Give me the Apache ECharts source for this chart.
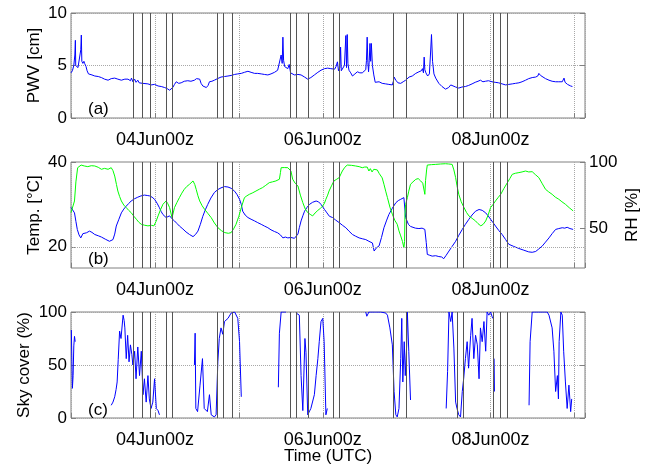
<!DOCTYPE html>
<html>
<head>
<meta charset="utf-8">
<script src="https://cdn.jsdelivr.net/npm/echarts@6/dist/echarts.min.js"></script>
<style>
  html, body { margin: 0; padding: 0; background: #fff; }
  #chart { width: 654px; height: 470px; }
</style>
</head>
<body>
<div id="chart"></div>
<script>
// x values are hours since 03Jun 00z
const xTickHours = [24, 72, 120]
const xTickLabels = ['04Jun00z', '06Jun00z', '08Jun00z']

// times of the black vertical marker lines
const eventHours = [17.9, 20.5, 22.7, 27.1, 28.9, 41.8, 43.5, 46.2, 62.6, 64.4, 67.8,
  74.9, 76.6, 92.2, 96.0, 110.4, 112.1, 120.9, 122.8, 124.8]

// (a) precipitable water vapour [cm]
const pwv = [[0,4.3],[0.4,4.5],[0.8,5.0],[1.1,6.0],[1.25,7.4],[1.35,5.0],[1.6,4.9],[2.0,4.8],[2.5,4.9],[2.8,6.5],[2.95,7.9],[3.1,5.4],[3.4,5.2],[3.7,5.4],[3.9,5.2],[4.3,4.9],[4.6,4.5],[5.0,4.2],[6.0,4.1],[6.8,4.0],[7.8,3.95],[8.7,3.85],[9.6,3.7],[10.6,3.6],[11.5,3.75],[12.5,3.8],[13.4,3.7],[14.4,3.6],[15.4,3.7],[16.3,3.7],[17.0,3.55],[17.3,3.8],[17.7,3.45],[18.2,3.7],[18.6,3.4],[19.1,3.6],[19.5,3.35],[20.0,3.5],[20.5,3.3],[21,3.35],[22,3.25],[22.9,3.15],[23.9,3.2],[24.9,3.05],[25.8,3.0],[26.8,2.9],[27.5,2.8],[28.2,2.65],[28.7,2.75],[29.1,2.9],[29.6,3.2],[30.1,3.45],[30.8,3.3],[31.5,3.35],[32.4,3.5],[33.4,3.55],[34.3,3.5],[35.3,3.6],[35.9,3.75],[36.3,3.9],[36.8,3.7],[37.2,3.3],[37.7,3.05],[38.2,2.95],[38.7,2.9],[39.2,3.1],[39.6,3.45],[40.3,3.5],[41,3.6],[41.9,3.75],[42.9,3.9],[43.9,3.95],[44.9,4.0],[45.8,4.05],[46.8,4.15],[47.7,4.2],[48.7,4.25],[49.6,4.35],[50.6,4.45],[51.5,4.35],[52.5,4.25],[53.4,4.25],[54.4,4.2],[55.3,4.15],[56.3,4.1],[57.2,4.2],[58.2,4.35],[58.7,4.45],[59.1,4.55],[59.6,4.5],[60.1,6.0],[60.4,5.2],[60.6,7.7],[60.8,5.5],[61.1,4.9],[61.5,4.8],[62.0,4.7],[62.4,5.1],[62.8,4.3],[63.3,4.2],[63.9,4.1],[64.9,4.15],[65.8,4.1],[66.8,3.9],[67.7,3.7],[68.6,3.85],[69.6,4.1],[70.6,4.35],[71.5,4.55],[72.5,4.7],[73.4,4.75],[74.3,4.7],[74.8,4.75],[75.4,4.65],[75.8,4.9],[76.2,5.35],[76.5,4.5],[76.9,4.8],[77.1,6.75],[77.3,4.5],[77.7,4.6],[78.2,5.0],[78.6,7.85],[78.8,4.8],[79.0,7.95],[79.2,5.2],[79.5,4.55],[80.0,4.3],[80.5,4.0],[81.2,4.2],[81.9,4.4],[82.6,4.3],[83.3,4.3],[83.8,4.45],[84.3,4.6],[84.5,5.5],[84.7,7.7],[84.9,5.3],[85.1,4.4],[85.3,5.5],[85.5,7.1],[85.7,5.4],[85.9,7.1],[86.2,5.0],[86.6,4.1],[87.0,3.4],[87.3,3.3],[88.1,3.45],[89.0,3.3],[90,3.25],[90.9,3.2],[91.9,3.15],[92.2,3.5],[92.4,3.9],[92.9,3.6],[93.5,3.35],[94.3,3.3],[95.0,3.45],[95.7,3.6],[96.2,3.75],[96.7,3.9],[97.6,4.0],[98.6,4.25],[99.5,4.4],[100.2,4.5],[100.5,4.7],[100.8,4.3],[101.0,5.8],[101.2,4.6],[101.5,4.3],[102.0,4.0],[102.5,4.2],[102.8,6.0],[103.1,7.95],[103.4,5.4],[103.8,4.2],[104.3,3.8],[105.2,3.3],[106.1,3.0],[107.1,2.75],[108,2.9],[108.6,3.15],[109,3.15],[110,2.95],[110.9,2.85],[111.8,2.95],[112.8,3.0],[113.7,3.1],[114.7,3.25],[115.6,3.4],[116.4,3.5],[117.1,3.6],[117.8,3.45],[118.5,3.5],[119.4,3.55],[120.4,3.45],[121.3,3.4],[122.3,3.35],[123.3,3.25],[124.3,3.15],[125.2,3.2],[126.2,3.25],[127.1,3.3],[128.1,3.35],[129,3.45],[130,3.6],[130.9,3.75],[131.9,3.85],[132.9,3.9],[133.5,4.0],[133.8,4.25],[134.3,4.05],[134.8,3.95],[135.7,3.75],[136.7,3.6],[137.6,3.5],[138.6,3.45],[139.5,3.45],[140.5,3.45],[141,3.8],[141.3,3.4],[142,3.2],[142.9,3.05],[143.4,3.0]]

// (b) temperature [°C], left axis
const temp = [[0,29.3],[0.5,29.0],[1.0,28.0],[1.4,26.0],[1.8,24.1],[2.3,22.8],[2.8,22.1],[3.4,23.1],[4.4,23.3],[5.3,23.7],[6.0,23.4],[6.8,22.9],[7.8,22.6],[8.7,22.3],[9.8,21.8],[11.0,21.3],[12.0,21.7],[12.5,23.0],[12.95,24.9],[13.7,26.5],[14.4,28.0],[15.1,28.9],[15.8,29.6],[16.5,30.2],[17.2,30.8],[18.1,31.3],[19.1,31.7],[20.0,32.0],[21,32.2],[21.8,32.1],[22.5,32.0],[23.2,31.7],[23.9,31.2],[24.6,30.3],[25.3,29.2],[25.8,28.3],[26.3,27.6],[27.2,26.9],[28.2,27.3],[28.9,26.6],[29.6,26.1],[30.3,25.5],[31.0,24.9],[32,24.2],[32.9,23.5],[33.9,22.9],[34.9,22.4],[35.6,22.9],[36.3,23.7],[37.0,25.3],[37.7,27.2],[38.4,28.7],[39.1,30.0],[40,31.5],[41.0,32.8],[42,33.5],[42.9,33.9],[43.9,34.2],[44.9,34.1],[45.8,33.8],[46.8,33.1],[47.5,32.3],[48.2,31.2],[48.7,30.0],[49.1,28.4],[49.8,27.5],[50.6,26.9],[51.5,26.5],[52.5,26.1],[53.4,25.7],[54.4,25.3],[55.3,24.9],[56.3,24.5],[57.2,24.0],[58.2,23.6],[59.1,23.3],[59.9,22.8],[60.6,22.1],[61.3,22.3],[62,22.1],[62.9,22.2],[63.9,22.0],[64.4,22.2],[64.9,23.0],[65.3,24.5],[65.8,26.1],[66.3,27.3],[66.8,28.4],[67.5,29.3],[68.2,30.0],[69.1,30.5],[70.1,30.8],[70.8,30.6],[71.5,30.0],[72,29.4],[72.5,28.8],[73.2,28.0],[73.9,27.2],[74.8,26.9],[75.7,26.3],[76.7,25.7],[77.6,25.1],[78.6,24.5],[79.5,23.7],[80.5,22.9],[81.4,22.5],[82.4,22.1],[83.3,21.9],[84.3,21.7],[85.2,21.3],[86.2,20.9],[86.7,19.0],[87.4,19.8],[88.1,20.2],[88.8,22.2],[89.5,24.5],[90.2,26.1],[90.9,27.6],[91.9,29.1],[92.9,30.4],[93.6,30.9],[94.3,31.2],[95.2,31.6],[95.5,31.9],[95.7,26.9],[96.5,25.3],[97.1,24.8],[97.6,24.5],[98.5,24.4],[99.5,24.3],[100.4,24.4],[101.2,24.1],[101.6,21.0],[101.9,18.2],[102.6,18.0],[103.3,17.8],[104.3,17.9],[105.2,17.7],[106,17.6],[106.6,17.2],[107.3,18.0],[108.1,19.0],[109,20.1],[110,21.3],[110.9,22.7],[111.9,24.1],[112.8,25.3],[113.8,26.5],[114.7,27.5],[115.7,28.4],[116.7,28.8],[117.6,28.6],[118.6,28.0],[119.3,27.3],[120,26.5],[120.7,25.7],[121.4,24.9],[122.3,23.9],[123.3,22.9],[124.3,21.7],[125.2,20.6],[126.6,20.1],[128.1,19.6],[129.5,19.2],[130.9,18.8],[131.9,18.7],[132.9,18.9],[133.8,19.5],[134.8,20.2],[135.7,21.1],[136.7,22.1],[137.6,23.1],[138.6,24.1],[139.5,24.3],[140.5,24.5],[141.2,24.4],[141.9,24.6],[142.7,24.3],[143.6,24.1]]

// (b) relative humidity [%], right axis
const rh = [[0,61.8],[0.5,63],[1.0,70.6],[1.4,85],[1.9,95.7],[2.9,97.7],[3.8,97.0],[4.8,96.5],[5.8,97.2],[6.8,97.0],[7.8,96.0],[8.7,94.5],[9.6,95.2],[10.6,94.5],[11.5,95.7],[12.0,93.5],[12.5,89.4],[13.0,83],[13.4,78.1],[13.9,74],[14.4,70.6],[15.1,67.5],[15.8,65.6],[16.5,63.5],[17.2,61.8],[18.0,59],[18.7,56.8],[19.4,54.5],[20.1,53.0],[21.0,52.3],[22,51.8],[23.0,52.2],[23.7,51.8],[24.3,55],[24.9,59.3],[25.6,64],[26.3,68.1],[27.2,70.6],[27.7,68.5],[28.2,65.6],[28.9,58],[29.6,65.6],[30.3,69.5],[31,73.1],[31.7,76.5],[32.4,79.4],[33.1,81.5],[33.9,83.2],[34.9,85.7],[35.4,83],[35.8,79.4],[36.3,74.5],[36.8,70.6],[37.5,67],[38.2,64.3],[39.2,61],[40.1,58],[41,54],[42,50.5],[43,48.2],[44,46.7],[45,46.2],[45.8,46.7],[46.5,49.5],[47.2,53],[48,59],[48.7,65.6],[49.6,73.1],[50.3,74.5],[51,75.6],[52,76.8],[52.9,78.1],[53.9,79.5],[54.8,80.7],[55.7,82.4],[56.7,84.4],[57.6,85.0],[58.6,85.7],[59.6,87],[59.9,92],[60.1,95.7],[61,95.8],[62,95.7],[62.9,93.2],[63.4,87],[64.1,84],[64.9,81.9],[65.6,75],[66.3,69.3],[67.0,64.5],[67.7,61.8],[68.4,60.5],[69.1,59.3],[69.8,61.5],[70.6,63.5],[71.3,65],[72,66.8],[72.5,69],[72.9,71.9],[73.4,75],[73.8,78.1],[74.5,82],[75.2,85.7],[76.0,87],[76.7,88.2],[77.2,91],[77.6,93.2],[78.3,96],[79.0,97.7],[80.2,97.5],[81.4,97.0],[82.4,96.5],[83.3,95.7],[84,96.2],[84.7,96.2],[85.2,93.2],[85.6,95],[86.1,92.5],[86.6,94.5],[87.1,93.2],[87.6,94],[88.1,91.5],[88.6,92],[89.0,88],[89.5,83.2],[90.0,78],[90.5,73.1],[91.2,66],[91.9,60.6],[92.6,56],[93.3,53],[93.8,48],[94.3,44.2],[94.8,40],[95.2,35.4],[95.4,40],[95.5,60],[95.7,68],[96.2,73.1],[96.6,78],[97.1,83.2],[97.8,85],[98.6,86.9],[99.3,87.5],[100,85.7],[100.6,84],[101.2,75.6],[101.4,86],[101.7,94],[101.9,97.7],[103.1,98],[104.3,98.2],[105.7,98.5],[107.1,98.7],[108,98.5],[109,98.2],[109.5,94],[110,88.2],[110.4,82],[110.9,75.6],[111.6,70],[112.4,65.6],[113.1,62],[113.8,59.3],[114.7,57.5],[115.7,55.5],[116.4,53.5],[117.2,51.8],[117.9,53],[118.6,55.5],[119.3,60],[120,65.6],[120.7,68],[121.4,70.6],[122.1,73],[122.9,75.6],[123.8,80],[124.8,84.4],[125.5,87.5],[126.2,90.7],[127.1,91.5],[128.1,92],[129,92.5],[130,93.2],[130.9,92.5],[131.9,92.7],[132.8,90.5],[133.8,88.2],[134.7,84],[135.7,79.4],[136.6,77.5],[137.6,75.6],[138.5,73.5],[139.5,71.9],[140.4,70],[141.4,68.1],[142.5,65.5],[143.6,63.1]]

// (c) sky cover [%], null = no data
const sky = [[0.1,83],[0.3,45],[0.4,28],[0.6,40],[0.8,68],[1.0,77],[1.2,72],[1.3,null],
  [11.5,12],[12.0,15],[12.5,20],[12.9,27],[13.2,34],[13.5,55],[13.9,82],[14.3,75],[14.9,97],[15.2,92],[15.4,85],[15.8,56],[16.2,78],[16.6,53],[17.0,69],[17.4,60],[17.7,50],[18.2,63],[18.6,37],[19.1,67],[19.6,40],[20.1,63],[20.6,22],[21.0,37],[21.5,15],[22.0,40],[22.4,18],[22.9,9],[23.4,15],[23.9,37],[24.4,9],[24.9,7],[25.3,3],[25.4,null],
  [35.3,50],[35.5,80],[35.7,9],[36.2,6],[36.9,31],[37.6,56],[38.1,9],[39.0,6],[39.6,22],[40.1,3],[41.0,1],[41.5,3],[42.0,53],[42.4,75],[42.9,85],[43.4,79],[43.9,91],[44.9,94],[45.8,99],[46.8,100],[47.7,94],[48.2,72],[48.7,20],[48.8,null],
  [59.3,29],[59.6,80],[60.1,100],[61.5,100],[61.6,null],
  [64.4,99],[65.3,97],[65.8,40],[66.3,7],[66.9,75],[67.2,62],[67.7,3],[68.6,9],[69.6,22],[70.1,40],[70.6,56],[71.0,72],[71.5,91],[72.0,94],[72.4,72],[72.9,3],[73.3,9],[73.5,null],
  [84.3,100],[84.6,96],[85.2,100],[87.1,100],[88.6,100],[90.0,99],[90.5,97],[91.2,85],[91.9,69],[92.4,25],[92.9,3],[93.3,1],[93.8,9],[94.3,56],[94.6,94],[94.9,34],[95.3,72],[95.6,40],[96.0,69],[96.2,100],[96.6,63],[97.1,17],[97.2,null],
  [107.3,9],[107.7,44],[108.1,100],[108.6,91],[109.0,100],[109.5,66],[110.0,15],[110.4,9],[110.9,3],[111.4,1],[111.9,25],[112.3,37],[112.8,56],[113.3,72],[113.7,47],[114.3,78],[114.7,94],[115.2,56],[115.7,78],[116.2,69],[116.7,37],[117.1,85],[117.6,72],[118.1,91],[118.6,63],[119.0,100],[119.5,97],[120.0,100],[120.4,96],[120.6,94],[120.7,null],
  [121.0,56],[121.1,25],[121.2,null],
  [131.0,12],[131.3,72],[131.9,100],[133.8,100],[135.2,100],[136.2,100],[136.7,97],[137.6,85],[138.1,63],[138.6,25],[139.1,40],[139.4,18],[139.6,72],[140.1,100],[140.5,97],[140.9,63],[141.4,34],[141.9,9],[142.4,31],[142.9,6],[143.2,18]]

const font = 'Liberation Sans'
const boxColor = '#808080'
const gridLine = { show: true, lineStyle: { color: '#a8a8a8', type: 'dotted', width: 1 } }

function xAxisFor(i, extra) {
  return Object.assign({
    type: 'value',
    gridIndex: i,
    min: 0,
    max: 147,
    interval: 24,
    axisLine: { show: false },
    axisTick: { inside: true, length: 5, lineStyle: { color: boxColor } },
    axisLabel: {
      margin: 13,
      color: '#000',
      fontFamily: font,
      fontSize: 18,
      formatter: function (v) {
        const k = xTickHours.indexOf(v)
        return k >= 0 ? xTickLabels[k] : ''
      }
    },
    splitLine: gridLine
  }, extra || {})
}

function yAxisFor(i, opt) {
  return Object.assign({
    type: 'value',
    gridIndex: i,
    nameLocation: 'middle',
    nameRotate: 90,
    nameMoveOverlap: false,
    nameTextStyle: { color: '#000', fontFamily: font, fontSize: 17 },
    axisLine: { show: false },
    axisTick: { inside: true, length: 5, lineStyle: { color: boxColor } },
    axisLabel: { margin: 4, color: '#000', fontFamily: font, fontSize: 17 },
    splitLine: { show: false }
  }, opt)
}

// 竖线标记
const eventMarks = eventHours.map(h => ({ xAxis: h }))
function markLines(extra) {
  return {
    silent: true,
    symbol: ['none', 'none'],
    label: { show: false },
    animation: false,
    lineStyle: { color: '#555555', type: 'solid', width: 1 },
    data: eventMarks.concat(extra || [])
  }
}

const myChart = echarts.init(document.getElementById('chart'))
const option = {
  animation: false,
  grid: [
    { left: 71, top: 13, width: 514, height: 105, show: true, borderColor: boxColor, borderWidth: 1 },
    { left: 71, top: 162, width: 514, height: 106, show: true, borderColor: boxColor, borderWidth: 1 },
    { left: 71, top: 312, width: 514, height: 106, show: true, borderColor: boxColor, borderWidth: 1 }
  ],
  xAxis: [
    xAxisFor(0),
    xAxisFor(1),
    xAxisFor(2, {
      name: 'Time (UTC)',
      nameLocation: 'middle',
      nameGap: 30,
      nameMoveOverlap: false,
      nameTextStyle: { color: '#000', fontFamily: font, fontSize: 17 }
    })
  ],
  yAxis: [
    yAxisFor(0, { min: 0, max: 10, interval: 5, name: 'PWV [cm]', nameGap: 28, splitLine: gridLine }),
    yAxisFor(0, { min: 0, max: 10, interval: 5, position: 'right', axisLabel: { show: false } }),
    yAxisFor(1, {
      min: 15, max: 40, interval: 5, name: 'Temp. [°C]', nameGap: 28,
      axisTick: { inside: true, length: 5, customValues: [20, 40], lineStyle: { color: boxColor } },
      axisLabel: { margin: 4, color: '#000', fontFamily: font, fontSize: 17, customValues: [20, 40] }
    }),
    yAxisFor(1, {
      min: 20, max: 100, interval: 10, position: 'right', name: 'RH [%]', nameGap: 39,
      axisTick: { inside: true, length: 5, customValues: [50, 100], lineStyle: { color: boxColor } },
      axisLabel: { margin: 4, color: '#000', fontFamily: font, fontSize: 17, customValues: [50, 100] }
    }),
    yAxisFor(2, { min: 0, max: 100, interval: 50, name: 'Sky cover (%)', nameGap: 38, splitLine: gridLine }),
    yAxisFor(2, { min: 0, max: 100, interval: 50, position: 'right', axisLabel: { show: false } })
  ],
  graphic: [
    { type: 'text', left: 88, top: 101, style: { text: '(a)', font: '17px "Liberation Sans"', fill: '#000' } },
    { type: 'text', left: 88, top: 251, style: { text: '(b)', font: '17px "Liberation Sans"', fill: '#000' } },
    { type: 'text', left: 88, top: 402, style: { text: '(c)', font: '17px "Liberation Sans"', fill: '#000' } }
  ],
  series: [
    {
      type: 'line', xAxisIndex: 0, yAxisIndex: 0, data: pwv,
      showSymbol: false, lineStyle: { color: '#0000ff', width: 1 }, itemStyle: { color: '#0000ff' },
      markLine: markLines()
    },
    {
      type: 'line', xAxisIndex: 1, yAxisIndex: 2, data: temp,
      showSymbol: false, lineStyle: { color: '#0000ff', width: 1 }, itemStyle: { color: '#0000ff' },
      markLine: markLines([{ yAxis: 20, lineStyle: { color: '#a8a8a8', type: 'dotted', width: 1 } }])
    },
    {
      type: 'line', xAxisIndex: 1, yAxisIndex: 3, data: rh,
      showSymbol: false, lineStyle: { color: '#00ff00', width: 1 }, itemStyle: { color: '#00ff00' }
    },
    {
      type: 'line', xAxisIndex: 2, yAxisIndex: 4, data: sky, connectNulls: false,
      showSymbol: false, lineStyle: { color: '#0000ff', width: 1 }, itemStyle: { color: '#0000ff' },
      markLine: markLines()
    }
  ]
}
myChart.setOption(option)
</script>
</body>
</html>
